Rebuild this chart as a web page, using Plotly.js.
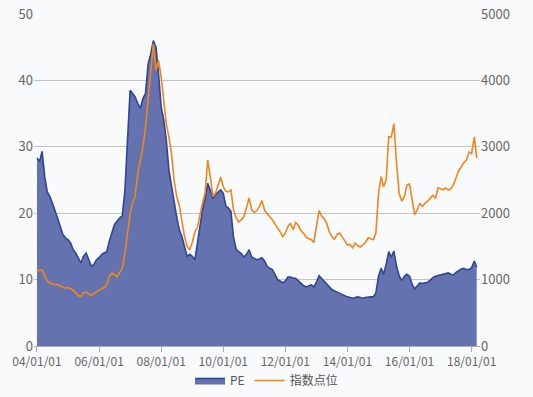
<!DOCTYPE html>
<html>
<head>
<meta charset="utf-8">
<script src="https://cdn.plot.ly/plotly-3.0.1.min.js"></script>
<style>
  html, body { margin: 0; padding: 0; background: #f9fafc; }
  #chart { width: 533px; height: 397px; }
</style>
</head>
<body>
<div id="chart"></div>
<script>
// Monthly series, starting 2004-01
const startYear = 2004;
const startMonth = 0;

const peValues = [
  28.3, 27.8, 29.3, 25.5, 23.2, 22.5, 21.5, 20.5, 19.2, 18.0, 16.8, 16.3,
  16.0, 15.5, 14.5, 14.0, 13.2, 12.5, 13.5, 14.0, 13.0, 12.0, 12.3, 13.0,
  13.3, 13.8, 14.0, 14.2, 15.8, 17.0, 18.3, 18.8, 19.3, 19.6, 23.5, 31.0,
  38.5, 38.0, 37.5, 36.5, 35.8, 37.3, 38.0, 42.5, 44.0, 46.0, 45.0, 41.0,
  36.0, 34.0, 31.0, 26.5, 24.0, 21.5, 19.5, 17.5, 16.5, 15.0, 13.5, 13.8,
  13.5, 13.0, 15.5, 17.5, 20.5, 22.2, 24.5, 23.5, 22.2, 22.8, 23.2, 23.5,
  23.0, 21.0, 20.8, 20.3, 16.4, 14.6, 14.2, 13.9, 13.4, 13.8, 14.5, 13.4,
  13.2, 13.0, 13.1, 13.3, 12.8, 12.0, 11.7, 11.5, 10.8, 10.0, 9.8, 9.5,
  9.8, 10.4, 10.4, 10.2, 10.2, 9.8, 9.5, 9.1, 8.9, 9.0, 9.2, 8.9,
  9.6, 10.6, 10.2, 9.8, 9.3, 8.8, 8.5, 8.3, 8.1, 8.0, 7.8, 7.6,
  7.4, 7.3, 7.2, 7.3, 7.4, 7.3, 7.2, 7.3, 7.4, 7.4, 7.4, 8.0,
  10.5, 11.7, 10.8, 12.3, 14.2, 13.4, 14.3, 12.0, 10.6, 9.8, 10.5, 10.8,
  10.5, 9.3, 8.6, 9.0, 9.5, 9.4, 9.5, 9.6, 9.9, 10.3, 10.5, 10.6,
  10.7, 10.8, 10.8, 11.0, 10.8, 10.7, 11.1, 11.4, 11.6, 11.7, 11.5, 11.5,
  11.8, 12.8, 11.9
];

const indexValues = [
  1114, 1150, 1140, 1060, 980, 950, 930, 920, 930, 900, 890, 870,
  880, 860, 840, 800, 760, 745, 800, 810, 780, 765, 790, 820,
  840, 860, 880, 920, 1050, 1100, 1070, 1040, 1110, 1180, 1400, 1700,
  2000, 2170, 2250, 2600, 2820, 3000, 3300, 3750, 4200, 4550, 4150, 4300,
  4050, 3650, 3350, 3150, 2900, 2500, 2250, 2120, 1900, 1650, 1500, 1450,
  1560, 1720, 1780, 1980, 2150, 2300, 2800, 2550, 2250, 2300, 2420, 2540,
  2400, 2330, 2320, 2350, 2050, 1930, 1870, 1900, 1950, 2100, 2230, 2050,
  2010, 2040, 2100, 2190, 2050, 1990, 1950, 1900, 1840, 1790, 1720, 1650,
  1700, 1800, 1850, 1750, 1860, 1820, 1740, 1700, 1640, 1620, 1600, 1560,
  1780, 2040, 1960, 1920, 1850, 1720, 1650, 1610, 1680, 1700, 1640, 1590,
  1520, 1530, 1480, 1550, 1510, 1490, 1520, 1560, 1630, 1620, 1600, 1700,
  2300, 2550, 2400, 2500, 3150, 3150, 3350, 2750, 2300, 2180, 2250, 2420,
  2440, 2200, 1980, 2050, 2150, 2100, 2150, 2180, 2230, 2270, 2220, 2380,
  2370, 2350, 2380, 2350, 2370, 2430, 2530, 2640, 2700, 2760, 2800, 2920,
  2900, 3150, 2830
];

const seriesNames = ['PE', '指数点位'];

function monthDate(i) {
  const total = startMonth + i;
  const y = startYear + Math.floor(total / 12);
  const m = (total % 12) + 1;
  return y + '-' + String(m).padStart(2, '0') + '-01';
}
const dates = peValues.map((_, i) => monthDate(i));

const FONT = '"Noto Sans CJK SC", "Noto Sans", sans-serif';

const traces = [
  {
    x: dates, y: peValues, name: seriesNames[0], type: 'scatter', mode: 'lines',
    fill: 'tozeroy', fillcolor: '#6572b0',
    line: { color: '#2f4596', width: 1.6 },
    yaxis: 'y'
  },
  {
    x: dates, y: indexValues, name: seriesNames[1], type: 'scatter', mode: 'lines',
    line: { color: '#f0861c', width: 1.6 },
    yaxis: 'y2'
  }
];

const layout = {
  width: 533, height: 397,
  margin: { l: 34, r: 53, t: 14, b: 51 },
  paper_bgcolor: '#f9fafc',
  plot_bgcolor: '#f9fafc',
  font: { family: FONT, size: 12, color: '#666' },
  showlegend: true,
  legend: {
    orientation: 'h', xref: 'container', x: 0.5, xanchor: 'center',
    yref: 'container', y: 0.005, yanchor: 'bottom',
    font: { family: FONT, size: 12, color: '#555' },
    bgcolor: 'rgba(0,0,0,0)'
  },
  xaxis: {
    type: 'date',
    range: ['2003-11-27', '2018-04-09'],
    tick0: '2004-01-01', dtick: 'M24',
    tickformat: '%y/%m/%d',
    showgrid: false, zeroline: false,
    showline: true, linecolor: '#aaa', linewidth: 1,
    ticks: 'outside', ticklen: 5, tickcolor: '#aaa',
    tickfont: { family: FONT, size: 12, color: '#666' }
  },
  yaxis: {
    range: [0, 50], dtick: 10,
    showgrid: true, gridcolor: '#c4c4c4', gridwidth: 1,
    zeroline: false, showline: false, ticks: '',
    tickfont: { family: FONT, size: 13, color: '#666' }
  },
  yaxis2: {
    range: [0, 5000], dtick: 1000, overlaying: 'y', side: 'right',
    showgrid: false, zeroline: false, showline: false, ticks: '',
    tickfont: { family: FONT, size: 13, color: '#666' }
  }
};

Plotly.newPlot('chart', traces, layout, { staticPlot: true, displayModeBar: false });
</script>
</body>
</html>
